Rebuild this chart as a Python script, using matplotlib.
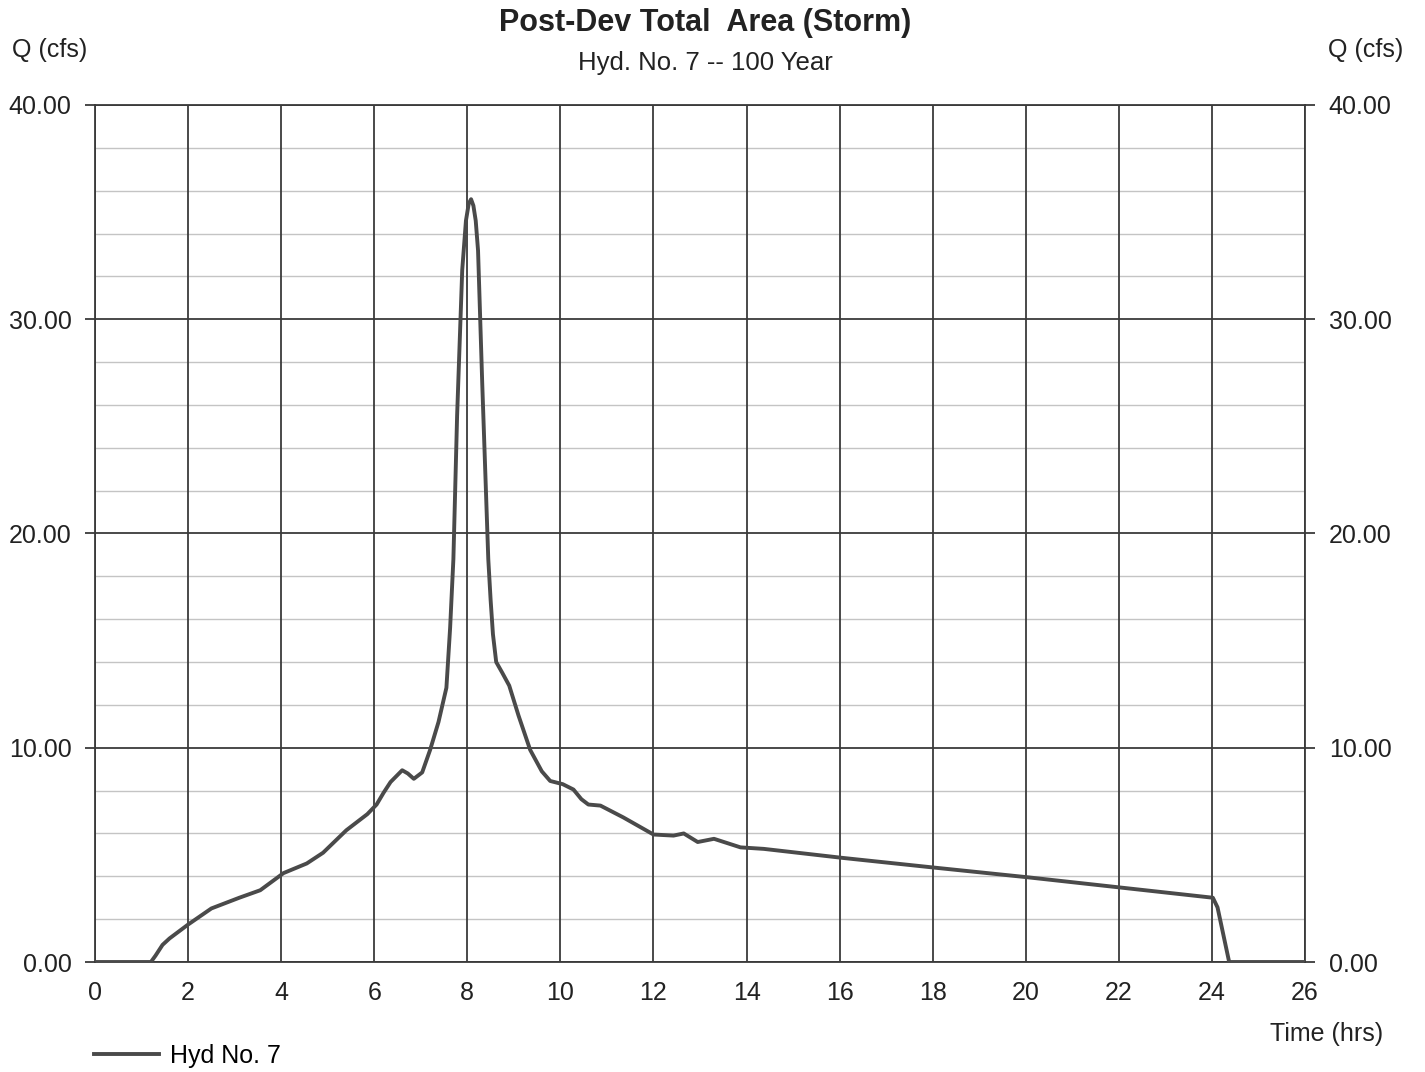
import numpy as np
import matplotlib.pyplot as plt

plt.rcParams['font.family'] = ['Liberation Sans', 'DejaVu Sans']

# hydrograph
time_hrs = [0, 1.2, 1.3, 1.45, 1.6, 2.0, 2.5, 3.1, 3.55, 4.05, 4.55, 4.9, 5.4, 5.85,
            6.05, 6.2, 6.35, 6.6, 6.72, 6.85, 7.03, 7.2, 7.38, 7.55, 7.63, 7.7, 7.78,
            7.89, 7.97, 8.03, 8.08, 8.13, 8.18, 8.23, 8.32, 8.45, 8.5, 8.55, 8.62,
            8.75, 8.9, 9.1, 9.35, 9.6, 9.78, 10.05, 10.28, 10.45, 10.6, 10.86, 11.35,
            12.0, 12.43, 12.65, 12.95, 13.3, 13.87, 14.37, 16.06, 18.06, 20.06,
            24.02, 24.12, 24.37, 26]
q_cfs = [0, 0, 0.3, 0.8, 1.1, 1.75, 2.5, 3.0, 3.35, 4.15, 4.6, 5.1, 6.15, 6.9,
         7.35, 7.9, 8.4, 8.95, 8.8, 8.55, 8.85, 9.9, 11.2, 12.8, 15.6, 18.8, 25.5,
         32.3, 34.6, 35.4, 35.6, 35.3, 34.6, 33.2, 27.0, 18.8, 16.9, 15.3, 14.0,
         13.5, 12.9, 11.5, 9.9, 8.9, 8.45, 8.3, 8.05, 7.6, 7.35, 7.3, 6.75,
         5.95, 5.9, 6.0, 5.6, 5.75, 5.35, 5.28, 4.86, 4.4, 3.95,
         3.0, 2.55, 0, 0]

x_ticks = np.arange(0, 27, 2)
y_ticks = [0, 10, 20, 30, 40]

fig = plt.figure(figsize=(14.25, 10.72), dpi=100)
ax = fig.add_axes([0.0667, 0.1026, 0.8491, 0.7995])

ax.set_xlim(0, 26)
ax.set_ylim(0, 40)

# grid: light minor rows every 2 cfs, dark majors
for y in np.arange(2, 40, 2):
    if y % 10:
        ax.axhline(y, color='#c4c4c4', lw=1.0, zorder=1)
ax.set_xticks(x_ticks)
ax.set_yticks(y_ticks)
ax.grid(which='major', color='#3a3a3a', lw=1.3, zorder=1)

ax.plot(time_hrs, q_cfs, color='#4a4a4a', lw=2.8, zorder=3, label='Hyd No. 7')

for s in ax.spines.values():
    s.set_color('#3a3a3a')
    s.set_linewidth(1.3)

ax.set_yticklabels(['%.2f' % v for v in y_ticks])
ax.tick_params(axis='both', labelsize=18, length=7, color='#3a3a3a', width=1.3,
               pad=10, labelcolor='#222222')
ax.tick_params(axis='x', length=0, pad=14)
ax.tick_params(axis='y', right=True, labelright=True)

fig.text(0.495, 0.979, 'Post-Dev Total  Area (Storm)', ha='center', va='center',
         fontsize=22, fontweight='bold', color='#222222')
fig.text(0.495, 0.941, 'Hyd. No. 7 -- 100 Year', ha='center', va='center',
         fontsize=18.5, color='#222222')
fig.text(0.035, 0.953, 'Q (cfs)', ha='center', va='center', fontsize=18, color='#222222')
fig.text(0.958, 0.953, 'Q (cfs)', ha='center', va='center', fontsize=18, color='#222222')
fig.text(0.931, 0.035, 'Time (hrs)', ha='center', va='center', fontsize=18, color='#222222')

fig.legend(loc='center left', bbox_to_anchor=(0.050, 0.015), frameon=False,
           fontsize=18, handlelength=2.6, handletextpad=0.45)

fig.savefig('out.png', dpi=100, facecolor='white')
